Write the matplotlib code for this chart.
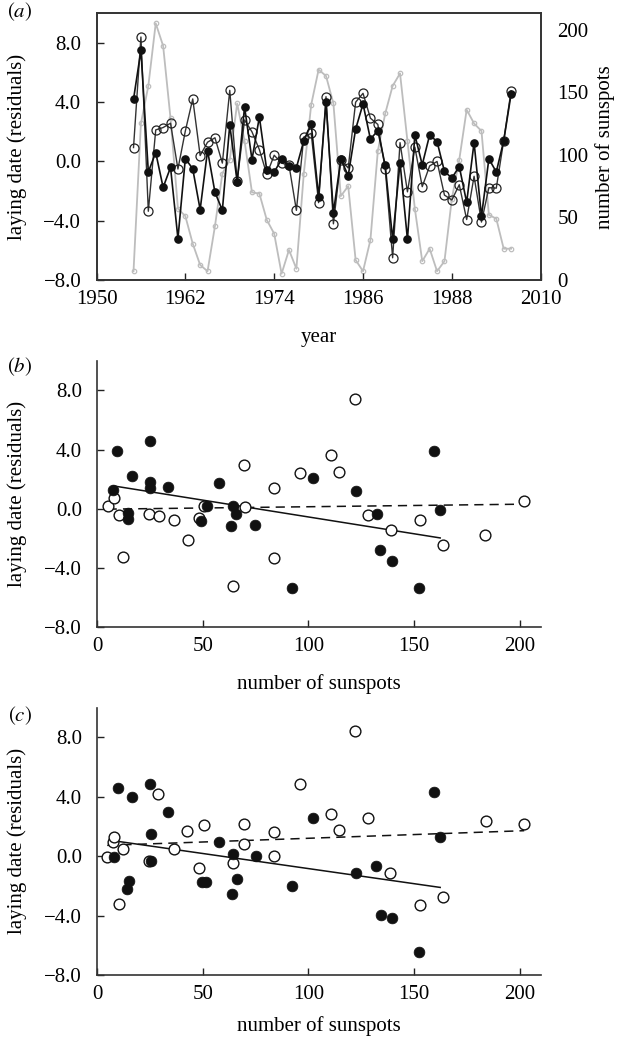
import numpy as np
import matplotlib
matplotlib.use("Agg")
import matplotlib.pyplot as plt

plt.rcParams['font.family'] = ['Liberation Serif', 'DejaVu Serif']
plt.rcParams['mathtext.fontset'] = 'stix'
plt.rcParams['font.size'] = 15.0

# panel (a): yearly series
years = list(range(1955, 2007))
filled_a = [4.2, 7.5, -0.7, 0.6, -1.75, -0.4, -5.2, 0.2, -0.5, -3.25,
            0.74, -2.08, -3.29, 2.46, -1.36, 3.68, 0.13, 3.0, -0.6, -0.72,
            0.15, -0.3, -0.42, 1.4, 2.54, -2.37, 3.99, -3.47, 0.16, -0.96,
            2.18, 3.88, 1.51, 2.08, -0.27, -5.26, -0.07, -5.26, 1.79, -0.22,
            1.79, 1.34, -0.67, -1.12, -0.34, -2.76, 1.28, -3.70, 0.18, -0.71,
            1.39, 4.55]
open_a = [0.94, 8.4, -3.36, 2.13, 2.29, 2.58, -0.51, 2.06, 4.22, 0.4,
          1.3, 1.6, -0.11, 4.8, -1.34, 2.8, 2.0, 0.8, -0.87, 0.42,
          -0.11, -0.25, -3.3, 1.65, 1.9, -2.78, 4.37, -4.21, 0.11, -0.44,
          4.0, 4.6, 2.92, 2.5, -0.5, -6.5, 1.27, -2.05, 0.97, -1.7,
          -0.3, 0.0, -2.27, -2.6, -1.57, -3.92, -1.0, -4.09, -1.77, -1.8,
          1.4, 4.76]
sunspots = [7, 125, 155, 205, 187, 129, 57, 51, 29, 12,
            7, 43, 85, 96, 141, 111, 70, 69, 48, 37,
            5, 24, 9, 85, 140, 168, 163, 141, 67, 75,
            16, 7, 32, 103, 133, 155, 165, 111, 57, 15,
            25, 7, 15, 65, 96, 136, 125, 119, 52, 49,
            25, 25]
year_ticks = [1950, 1962, 1974, 1986, 1998, 2010]
year_labels = ['1950', '1962', '1974', '1986', '1988', '2010']

# panel (b): laying date vs sunspots
b_filled_x = [7.6, 9.5, 14.4, 14.7, 16.3, 25, 25, 25, 33.7, 49.1, 51.8, 57.8, 63.4,
              64.5, 65.7, 74.7, 92.1, 102.0, 122.5, 132.4, 134, 139.8, 152.5, 159.6, 162.4]
b_filled_y = [1.30, 3.88, -0.67, -0.3, 2.22, 4.56, 1.79, 1.42, 1.5, -0.79, 0.22, 1.75, -1.13,
              0.18, -0.38, -1.06, -5.35, 2.06, 1.23, -0.34, -2.81, -3.55, -5.33, 3.93, -0.11]
b_open_x = [4.9, 8.1, 10.3, 12.0, 24.5, 29.1, 36.4, 42.8, 48.3, 50.6, 64.5, 69.6, 70,
            83.7, 83.7, 96.1, 110.6, 114.5, 122.1, 128, 139, 152.6, 163.5, 183.7, 202.2]
b_open_y = [0.16, 0.72, -0.45, -3.22, -0.38, -0.5, -0.74, -2.09, -0.63, 0.18, -5.24, 2.99, 0.11,
            1.39, -3.33, 2.40, 3.64, 2.51, 7.42, -0.45, -1.42, -0.74, -2.43, -1.8, 0.56]
b_solid = (1.72, -0.0227)   # intercept, slope (filled)
b_dashed = (-0.03, 0.0017)  # intercept, slope (open)

# panel (c)
c_filled_x = [8.1, 9.7, 13.9, 15.0, 16.3, 25.1, 25.4, 25.3, 33.4, 49.5, 51.5, 57.8, 63.7,
              64.5, 66.1, 75.1, 92.1, 102.1, 122.5, 132.1, 134.3, 139.8, 152.5, 159.6, 162.4]
c_filled_y = [-0.04, 4.6, -2.22, -1.66, 3.99, 4.83, 1.48, -0.34, 2.94, -1.77, -1.77, 0.96, -2.58,
              0.11, -1.55, 0.0, -2.0, 2.58, -1.12, -0.67, -3.93, -4.15, -6.44, 4.33, 1.30]
c_open_x = [4.7, 7.6, 8.1, 12.0, 10.4, 24.5, 28.9, 36.3, 42.6, 48.3, 50.7, 64.5, 69.6, 69.6,
            83.7, 83.7, 96.1, 110.8, 114.5, 122.1, 128, 138.7, 152.6, 163.6, 184.1, 202.2]
c_open_y = [-0.04, 0.96, 1.30, 0.45, -3.25, -0.32, 4.18, 0.45, 1.68, -0.83, 2.09, -0.45, 0.81, 2.15,
            1.59, 0.0, 4.83, 2.83, 1.75, 8.42, 2.54, -1.12, -3.30, -2.74, 2.36, 2.15]
c_solid = (1.19, -0.0203)
c_dashed = (0.70, 0.005)

res_ticks = [-8, -4, 0, 4, 8]
spot_ticks = [0, 50, 100, 150, 200]

W, H = 625, 1039
fig = plt.figure(figsize=(W / 100, H / 100), dpi=100)


def box(l, r, t, b):
    return [l / W, 1 - b / H, (r - l) / W, (b - t) / H]


def style_ax(ax):
    ax.tick_params(direction='in', length=5, width=1, colors='#222222', labelcolor='black')
    for s in ax.spines.values():
        s.set_linewidth(1.2)
        s.set_color('#333333')


def res_labels(vals):
    return [f"{v:.1f}".replace('-', '\u2212') for v in vals]


# ---- (a)
ax = fig.add_axes(box(96.5, 540.7, 13.3, 280))
ax2 = ax.twinx()
ax.set_zorder(ax2.get_zorder() + 1)
ax.patch.set_visible(False)
ax2.plot(years, sunspots, color='#bdbdbd', lw=1.3, marker='o', ms=3.2,
         mfc='none', mec='#bdbdbd', mew=0.9)
ax.plot(years, open_a, color='#333333', lw=1.0, marker='o', ms=6.5,
        mfc='none', mec='#222222', mew=0.9)
ax.plot(years, filled_a, color='#111111', lw=1.2, marker='o', ms=5.2,
        mfc='#111111', mec='#111111')
ax.set_xlim(1950, 2010)
ax.set_ylim(-8, 10)
ax.set_xticks(year_ticks)
ax.set_xticklabels(year_labels)
ax.set_yticks(res_ticks)
ax.set_yticklabels(res_labels(res_ticks))
ax2.set_ylim(0, 213)
ax2.set_yticks(spot_ticks)
style_ax(ax)
style_ax(ax2)
ax.tick_params(axis='y', pad=11)
ax.tick_params(axis='x', pad=7)
ax2.tick_params(axis='y', length=0, pad=12)
ax.set_xlabel('year', labelpad=14)
ax.set_ylabel('laying date (residuals)', labelpad=12)
ax2.set_ylabel('number of sunspots', labelpad=5)

# ---- (b) and (c)
panels = [
    (box(97.3, 540.7, 360.7, 627.3), b_filled_x, b_filled_y, b_open_x, b_open_y, b_solid, b_dashed, 13),
    (box(97.3, 540.7, 707.5, 975.0), c_filled_x, c_filled_y, c_open_x, c_open_y, c_solid, c_dashed, 9),
]
for rect, fx, fy, ox, oy, sol, das, lp in panels:
    a = fig.add_axes(rect)
    fx_line = np.array([min(fx), max(fx)])
    ox_line = np.array([min(ox), max(ox)])
    a.plot(fx_line, sol[0] + sol[1] * fx_line, color='#111111', lw=1.1, zorder=1)
    a.plot(ox_line, das[0] + das[1] * ox_line, color='#111111', lw=1.1,
           dashes=(6, 4), zorder=1)
    a.scatter(ox, oy, s=60, facecolors='white', edgecolors='#111111', linewidths=1.0, zorder=3)
    a.scatter(fx, fy, s=60, facecolors='#111111', edgecolors='#111111', linewidths=0.5, zorder=3)
    a.set_xlim(0, 210)
    a.set_ylim(-8, 10)
    a.set_xticks([0, 50, 100, 150, 200])
    a.set_yticks(res_ticks)
    a.set_yticklabels(res_labels(res_ticks))
    a.spines['top'].set_visible(False)
    a.spines['right'].set_visible(False)
    style_ax(a)
    a.tick_params(axis='y', pad=11)
    a.tick_params(axis='x', pad=7)
    a.set_xlabel('number of sunspots', labelpad=lp)
    a.set_ylabel('laying date (residuals)', labelpad=12)

for lab, (px, py) in zip(['a', 'b', 'c'], [(20, 12), (20, 367), (20, 716)]):
    fig.text(px / W, 1 - py / H, rf'$(\mathit{{{lab}}})$', ha='center', va='center', fontsize=15)

fig.savefig('out.png', dpi=100)
